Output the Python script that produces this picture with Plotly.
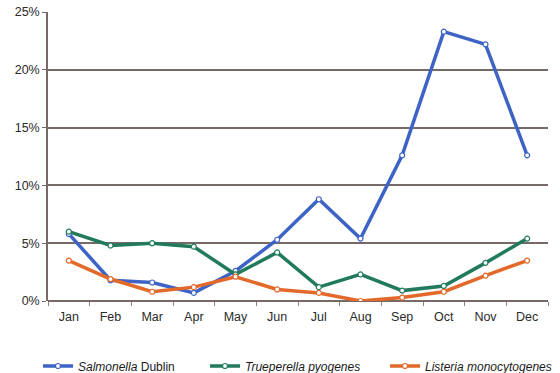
import plotly.graph_objects as go

months = ["Jan", "Feb", "Mar", "Apr", "May", "Jun", "Jul", "Aug", "Sep", "Oct", "Nov", "Dec"]

salmonella = [5.8, 1.8, 1.6, 0.7, 2.6, 5.3, 8.8, 5.4, 12.6, 23.3, 22.2, 12.6]
trueperella = [6.0, 4.8, 5.0, 4.7, 2.3, 4.2, 1.2, 2.3, 0.9, 1.3, 3.3, 5.4]
listeria = [3.5, 1.9, 0.8, 1.2, 2.1, 1.0, 0.7, 0.0, 0.3, 0.8, 2.2, 3.5]

series = [
    ("<i>Salmonella</i> Dublin", salmonella, "#3d63c6", "legend"),
    ("<i>Trueperella pyogenes</i>", trueperella, "#217a5c", "legend2"),
    ("<i>Listeria monocytogenes</i>", listeria, "#e2692a", "legend3"),
]

fig = go.Figure()
for name, vals, color, leg in series:
    fig.add_trace(go.Scatter(
        x=months, y=vals, name=name, mode="lines+markers",
        line=dict(color=color, width=3.5),
        marker=dict(size=5, color="white", line=dict(color=color, width=1.2)),
        legend=leg,
    ))

font = dict(family="Liberation Sans, Arial, sans-serif", size=12.5, color="#2a2a2a")
leg_common = dict(orientation="h", yanchor="middle", y=-0.225, xanchor="left",
                  bgcolor="rgba(0,0,0,0)", font=dict(family=font["family"], size=12, color="#1a1a1a"),
                  itemwidth=30, borderwidth=0)

fig.update_layout(
    width=560, height=373,
    margin=dict(l=48, r=12, t=12, b=72, autoexpand=False),
    paper_bgcolor="white", plot_bgcolor="white",
    font=font,
    showlegend=True,
    legend=dict(leg_common, x=-0.02),
    legend2=dict(leg_common, x=0.314),
    legend3=dict(leg_common, x=0.674),
    xaxis=dict(
        type="category", showgrid=False, showline=False,
        ticks="outside", tickson="boundaries", ticklen=4, tickcolor="#8a8080",
        ticklabelstandoff=6,
        tickfont=dict(size=12.5, color="#2a2a2a"), range=[-0.5, 11.5],
    ),
    yaxis=dict(
        range=[0, 25], dtick=5, ticksuffix="%",
        showgrid=True, gridcolor="#776a66", gridwidth=1.5,
        showline=True, linecolor="#776a66", linewidth=1.5,
        ticks="outside", ticklen=4, tickcolor="#776a66",
        zeroline=True, zerolinecolor="#776a66", zerolinewidth=1.5,
        tickfont=dict(size=12.5, color="#2a2a2a"),
    ),
)

fig.write_html("out.html")
